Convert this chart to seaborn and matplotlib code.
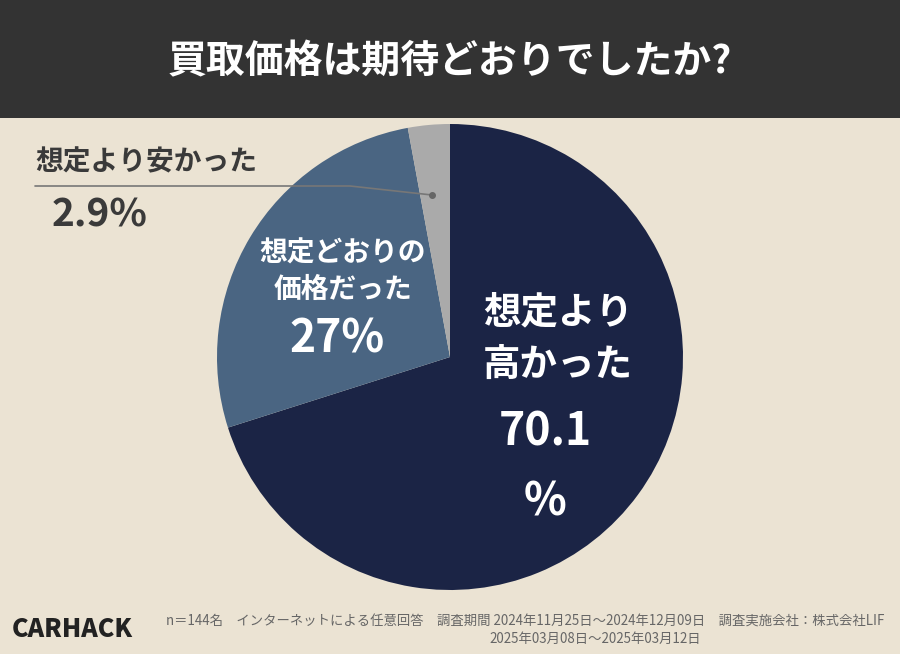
import matplotlib
matplotlib.use("Agg")
import matplotlib.pyplot as plt
import seaborn as sns

sns.set_theme(style="white")
plt.rcParams["font.family"] = "Noto Sans CJK JP"

categories = ["想定より高かった", "想定どおりの価格だった", "想定より安かった"]
values = [70.1, 27.0, 2.9]
labels = ["70.1\n%", "27%", "2.9%"]
colors = ["#1b2445", "#4a6582", "#aaaaaa"]

W, H = 900, 654
fig = plt.figure(figsize=(9, 6.54), dpi=100, facecolor="#ebe3d3")
hdr = fig.add_axes([0, 1 - 118 / H, 1, 118 / H])
hdr.set_facecolor("#333333"); hdr.set_xticks([]); hdr.set_yticks([])
for s in hdr.spines.values(): s.set_visible(False)
fig.text(0.5, 1 - 62 / H, "買取価格は期待どおりでしたか?", color="white",
         fontsize=28, fontweight="bold", ha="center", va="center")

r = 233
cx, cy = 450, 357
ax = fig.add_axes([(cx - r) / W, 1 - (cy + r) / H, 2 * r / W, 2 * r / H])
ax.pie(values, colors=colors, startangle=90, counterclock=False,
       wedgeprops=dict(linewidth=0))
ax.set_xlim(-1, 1); ax.set_ylim(-1, 1); ax.set_aspect("auto")

def px(x, y):
    return x / W, 1 - y / H

fig.text(*px(558, 338), "想定より\n高かった", color="white", fontsize=27,
         fontweight="bold", ha="center", va="center", linespacing=1.45)
fig.text(*px(545, 432), "70.1", color="white", fontsize=32, fontweight="bold",
         ha="center", va="center")
fig.text(*px(545, 503), "%", color="white", fontsize=32, fontweight="bold",
         ha="center", va="center")
fig.text(*px(343, 272), "想定どおりの\n価格だった", color="white", fontsize=20,
         fontweight="bold", ha="center", va="center", linespacing=1.4)
fig.text(*px(337, 340), "27%", color="white", fontsize=32, fontweight="bold",
         ha="center", va="center")
fig.text(*px(35, 162), "想定より安かった", color="#3a3a3a", fontsize=20,
         fontweight="bold", ha="left", va="center")
fig.text(*px(52, 215), "2.9%", color="#3a3a3a", fontsize=28,
         fontweight="bold", ha="left", va="center")
fig.add_artist(plt.Line2D([35 / W, 350 / W, 432 / W],
                          [1 - 186 / H, 1 - 186 / H, 1 - 195 / H],
                          color="#777777", lw=1.2))
fig.add_artist(plt.Line2D([432 / W], [1 - 195 / H], marker="o", ms=4,
                          color="#666666"))

fig.text(*px(72, 629), "CARHACK", color="#222222", fontsize=18,
         fontweight="black", fontstyle="italic", ha="center", va="center")
fig.text(*px(884, 622), "n＝144名　インターネットによる任意回答　調査期間 2024年11月25日～2024年12月09日　調査実施会社：株式会社LIF",
         color="#666666", fontsize=9.6, ha="right", va="center")
fig.text(*px(595, 639), "2025年03月08日～2025年03月12日", color="#666666",
         fontsize=9.6, ha="center", va="center")
fig.savefig("out.png", dpi=100, facecolor=fig.get_facecolor())
